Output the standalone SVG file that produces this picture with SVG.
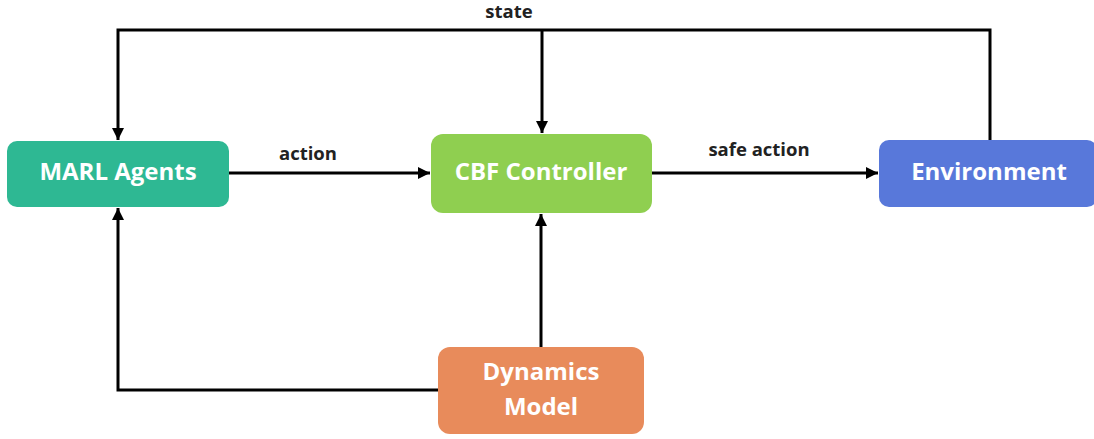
<svg xmlns="http://www.w3.org/2000/svg" width="1094" height="439" viewBox="0 0 1094 439">
<defs>
<style>
.node-label{font-family:"Open Sans","Liberation Sans",sans-serif;font-weight:bold;font-size:24px;fill:#ffffff;text-anchor:middle}
.edge-label{font-family:"Open Sans","Liberation Sans",sans-serif;font-weight:bold;font-size:18.5px;fill:#222222;text-anchor:middle}
.conn{fill:none;stroke:#000000;stroke-width:3}
</style>
<marker id="arr" viewBox="0 0 12 12" refX="12" refY="6" markerWidth="12" markerHeight="12" markerUnits="userSpaceOnUse" orient="auto">
<path d="M0,0 L12,6 L0,12 Z" fill="#000000"/>
</marker>
</defs>
<rect width="1094" height="439" fill="#ffffff"/>
<g id="connectors">
<polyline class="conn" points="990,140 990,30 118,30 118,140" marker-end="url(#arr)"/>
<line class="conn" x1="542" y1="30" x2="542" y2="133" marker-end="url(#arr)"/>
<line class="conn" x1="229" y1="173" x2="430" y2="173" marker-end="url(#arr)"/>
<line class="conn" x1="652" y1="173" x2="878" y2="173" marker-end="url(#arr)"/>
<line class="conn" x1="541" y1="347" x2="541" y2="214" marker-end="url(#arr)"/>
<polyline class="conn" points="438,390 118,390 118,208" marker-end="url(#arr)"/>
<text class="edge-label" x="509" y="18">state</text>
<text class="edge-label" x="308" y="160">action</text>
<text class="edge-label" x="759" y="156">safe action</text>
</g>
<g id="marl">
<rect x="7" y="141" width="222" height="66" rx="10" fill="#2eb893"/>
<text class="node-label" x="118" y="180">MARL Agents</text>
</g>
<g id="cbf">
<rect x="431" y="134" width="221" height="79" rx="12" fill="#8fcf50"/>
<text class="node-label" x="541" y="180">CBF Controller</text>
</g>
<g id="env">
<rect x="879" y="140" width="218" height="67" rx="10" fill="#5878da"/>
<text class="node-label" x="989" y="180">Environment</text>
</g>
<g id="dyn">
<rect x="438" y="347" width="206" height="87" rx="12" fill="#e88b5b"/>
<text class="node-label" x="541" y="380">Dynamics</text>
<text class="node-label" x="541" y="415">Model</text>
</g>
</svg>
